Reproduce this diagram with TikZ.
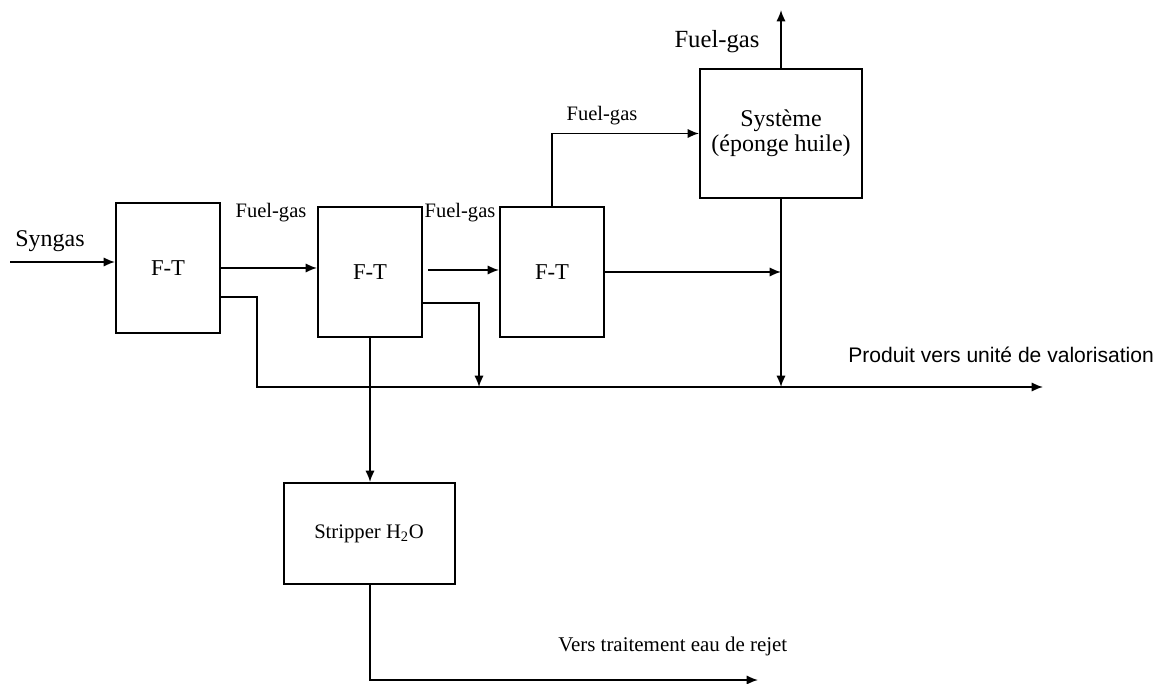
\documentclass[tikz,border=0pt]{standalone}
\usepackage{fontspec}
\setmainfont{Liberation Serif}
\newfontfamily\arialfont{Liberation Sans}
\usepackage{tikz}
\usetikzlibrary{arrows.meta}

\begin{document}
\begin{tikzpicture}[x=0.75pt,y=-0.75pt,
    box/.style={draw, line width=1.5pt, inner sep=0pt, font=\fontsize{17}{19}\selectfont},
    flow/.style={line width=1.3pt, -{Latex[length=8.5pt,width=7pt]}},
    lbl/.style={font=\fontsize{15.4}{17}\selectfont, inner sep=0pt}]
  \useasboundingbox (0,0) rectangle (1161,684);

  \node[box, minimum width=78pt, minimum height=97.5pt] (ft1) at (168,268) {F-T};
  \node[box, minimum width=78pt, minimum height=97.5pt] (ft2) at (370,272) {F-T};
  \node[box, minimum width=78pt, minimum height=97.5pt] (ft3) at (552,272) {F-T};
  \node[box, minimum width=121.5pt, minimum height=96.75pt, align=center,
        font=\fontsize{18}{19}\selectfont] (sys) at (781,133.5) {Système\\(éponge huile)};
  \node[box, minimum width=128.25pt, minimum height=75.75pt,
        font=\fontsize{15.5}{17}\selectfont] (strip) at (369,533.5) {Stripper H\textsubscript{2}O};

  \coordinate (syn) at (10,262);
  \coordinate (prod) at (1043,387);
  \coordinate (top) at (781,10);
  \coordinate (eau) at (758,680);

  % feed and gas line
  \draw[flow] (syn) -- (syn -| ft1.west);
  \draw[flow] (ft1.east |- 0,268) -- (ft2.west |- 0,268);
  \draw[flow] (428,270) -- (ft3.west |- 0,270);
  \draw[flow] (ft3.east) -- (ft3.east -| sys.south);
  \draw[flow] (ft3.north) |- (sys.west);
  \draw[flow] (sys.north) -- (top);

  % liquid product
  \draw[flow] (ft1.east |- 0,297) -| (257,387) -- (prod);
  \draw[flow] (ft2.east |- 0,303) -| (479,387);
  \draw[flow] (sys.south) -- (sys.south |- prod);

  % water
  \draw[flow] (ft2.south) -- (ft2.south |- strip.north);
  \draw[flow] (strip.south -| ft2.south) |- (eau);

  \node[lbl, font=\fontsize{18}{20}\selectfont] (lsyn) at (50,241) {Syngas};
  \node[lbl] (lfg1) at (271,213) {Fuel-gas};
  \node[lbl] (lfg2) at (460,213) {Fuel-gas};
  \node[lbl] (lfg3) at (602,116) {Fuel-gas};
  \node[lbl, font=\fontsize{18.5}{20}\selectfont] (lfg4) at (717,42) {Fuel-gas};
  \node[lbl, anchor=west, font=\arialfont\fontsize{15.8}{18}\selectfont] (lprod) at (848,355) {Produit vers unité de valorisation};
  \node[lbl, anchor=west, font=\fontsize{15.7}{18}\selectfont] (leau) at (558,646) {Vers traitement eau de rejet};
\end{tikzpicture}
\end{document}
